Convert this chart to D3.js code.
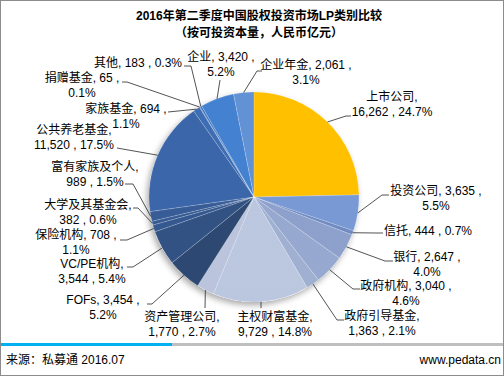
<!DOCTYPE html>
<html>
<head>
<meta charset="utf-8">
<script src="https://cdn.jsdelivr.net/npm/d3@7"></script>
<style>
  body { margin: 0; background: #fff; }
  svg text { font-family: "Liberation Sans", Arial, "Noto Sans CJK SC", sans-serif; }
</style>
</head>
<body>
<svg id="chart" width="504" height="377"></svg>
<script>
// LP 类别（顺时针，从 12 点方向开始）
const categories = ["上市公司", "投资公司", "信托", "银行", "政府机构", "政府引导基金",
  "主权财富基金", "资产管理公司", "FOFs", "VC/PE机构", "保险机构", "大学及其基金会",
  "富有家族及个人", "公共养老基金", "家族基金", "捐赠基金", "其他", "企业", "企业年金"];
const values = [16262, 3635, 444, 2647, 3040, 1363, 9729, 1770, 3454, 3544, 708, 382,
  989, 11520, 694, 65, 183, 3420, 2061];
const percents = ["24.7%", "5.5%", "0.7%", "4.0%", "4.6%", "2.1%", "14.8%", "2.7%", "5.2%",
  "5.4%", "1.1%", "0.6%", "1.5%", "17.5%", "1.1%", "0.1%", "0.3%", "5.2%", "3.1%"];

// 扇区颜色
const colors = ["#ffc000", "#6a8ed0", "#5f7ebb", "#8196c6", "#8b9fca", "#95a7cc",
  "#b4c1dc", "#b3bed8", "#163563", "#1b3f75", "#1f4684", "#204887",
  "#214a8b", "#2555a0", "#285dab", "#2960ae", "#2a63b2", "#2f73cc", "#5086d0"];

// 标签布局：分行方式(0 = 名称+数值 / 百分比, 1 = 名称 / 数值+百分比, 2 = 单行)、位置、引线拐点
const labelLayout = [
  { mode: 1, x: 392, y: 97,  elbow: [346, 116], end: [351, 116] },
  { mode: 0, x: 436, y: 191, elbow: [382, 195], end: [389, 195] },
  { mode: 2, x: 428, y: 231, elbow: [376, 233], end: [383, 233] },
  { mode: 0, x: 427, y: 257, elbow: [385, 261], end: [393, 261] },
  { mode: 0, x: 406, y: 286, elbow: [353, 289], end: [360, 289] },
  { mode: 1, x: 382, y: 316, elbow: [337, 320], end: [344, 320] },
  { mode: 1, x: 275, y: 317, elbow: [261, 308], end: [261, 308] },
  { mode: 1, x: 182, y: 317, elbow: [205, 308], end: [205, 308] },
  { mode: 0, x: 103, y: 300, elbow: [152, 304], end: [147, 304] },
  { mode: 1, x: 92,  y: 264, elbow: [133, 267], end: [127, 267] },
  { mode: 0, x: 76,  y: 235, elbow: [127, 240], end: [120, 240] },
  { mode: 1, x: 88,  y: 205, elbow: [138, 208], end: [133, 208] },
  { mode: 1, x: 95,  y: 167, elbow: [133, 184], end: [125, 184] },
  { mode: 1, x: 74,  y: 130, elbow: [117, 148], end: [117, 148] },
  { mode: 0, x: 126, y: 109, elbow: [168, 112], end: [168, 112] },
  { mode: 0, x: 82,  y: 78,  elbow: [127, 82],  end: [122, 82] },
  { mode: 2, x: 138, y: 63,  elbow: [191, 66],  end: [184, 66] },
  { mode: 0, x: 221, y: 57,  elbow: [220, 80],  end: [220, 80] },
  { mode: 0, x: 306, y: 65,  elbow: [257, 71],  end: [262, 71] }
];

const svg = d3.select("#chart");
const width = 504, height = 377;
const cx = 254, cy = 197, radius = 105;

// 外框
svg.append("rect")
  .attr("x", 0.5).attr("y", 0.5)
  .attr("width", width - 1).attr("height", height - 2)
  .attr("fill", "#fff")
  .attr("stroke", "#8c8c8c")
  .attr("stroke-width", 1);

// 标题
svg.append("text")
  .attr("x", 259).attr("y", 20)
  .attr("text-anchor", "middle")
  .attr("font-size", "12px")
  .attr("font-weight", "bold")
  .text("2016年第二季度中国股权投资市场LP类别比较");
svg.append("text")
  .attr("x", 259).attr("y", 37)
  .attr("text-anchor", "middle")
  .attr("font-size", "12px")
  .attr("font-weight", "bold")
  .text("（按可投资本量，人民币亿元）");

const defs = svg.append("defs");

// 饼图阴影
const shadow = defs.append("filter")
  .attr("id", "pieShadow")
  .attr("x", "-20%").attr("y", "-20%")
  .attr("width", "140%").attr("height", "140%");
shadow.append("feDropShadow")
  .attr("dx", -2).attr("dy", 3)
  .attr("stdDeviation", 3)
  .attr("flood-color", "#000")
  .attr("flood-opacity", 0.35);

// 整体竖向渐变叠加（上亮下暗）
const shade = defs.append("linearGradient")
  .attr("id", "shade")
  .attr("gradientUnits", "userSpaceOnUse")
  .attr("x1", 0).attr("y1", cy - radius)
  .attr("x2", 0).attr("y2", cy + radius);
shade.append("stop").attr("offset", 0).attr("stop-color", "#fff").attr("stop-opacity", 0.1);
shade.append("stop").attr("offset", 0.45).attr("stop-color", "#fff").attr("stop-opacity", 0);
shade.append("stop").attr("offset", 1).attr("stop-color", "#000").attr("stop-opacity", 0.2);

const pie = d3.pie().sort(null).value(d => d);
const arcs = pie(values);
const arc = d3.arc().innerRadius(0).outerRadius(radius);

const g = svg.append("g").attr("transform", `translate(${cx},${cy})`);

g.append("circle")
  .attr("r", radius)
  .attr("fill", "#fff")
  .attr("filter", "url(#pieShadow)");

g.selectAll("path.slice")
  .data(arcs)
  .join("path")
  .attr("class", "slice")
  .attr("d", arc)
  .attr("fill", (d, i) => colors[i]);

// 黄色扇区之外叠加渐变（渐变用画布坐标）
svg.append("g")
  .selectAll("path")
  .data(arcs.slice(1))
  .join("path")
  .attr("d", arc)
  .attr("transform", `translate(${cx},${cy})`)
  .attr("fill", "url(#shade)");

// 扇区分隔线
g.selectAll("path.sep")
  .data(arcs)
  .join("path")
  .attr("class", "sep")
  .attr("d", arc)
  .attr("fill", "none")
  .attr("stroke", "#ffffff")
  .attr("stroke-opacity", 0.25)
  .attr("stroke-width", 0.5);

// 引线
const fmt = d3.format(",");
svg.append("g")
  .selectAll("polyline")
  .data(arcs)
  .join("polyline")
  .attr("points", (d, i) => {
    const a = (d.startAngle + d.endAngle) / 2;
    const sx = cx + radius * Math.sin(a);
    const sy = cy - radius * Math.cos(a);
    const L = labelLayout[i];
    return [[sx, sy], L.elbow, L.end].map(p => p.join(",")).join(" ");
  })
  .attr("fill", "none")
  .attr("stroke", "#404040")
  .attr("stroke-width", 0.9);

// 标签文字
const labels = svg.append("g")
  .selectAll("text")
  .data(arcs)
  .join("text")
  .attr("text-anchor", "middle")
  .attr("font-size", "12px")
  .attr("fill", "#000");

labels.each(function(d, i) {
  const L = labelLayout[i];
  const name = categories[i] + ",";
  const val = fmt(values[i]);
  let lines;
  if (L.mode === 0) lines = [`${name} ${val} ,`, percents[i]];
  else if (L.mode === 1) lines = [name, `${val} , ${percents[i]}`];
  else lines = [`${name} ${val} , ${percents[i]}`];
  d3.select(this).selectAll("tspan")
    .data(lines)
    .join("tspan")
    .attr("x", L.x)
    .attr("y", (t, k) => L.y + 4 + k * 15)
    .text(t => t);
});

// 底部分隔线
svg.append("line")
  .attr("x1", 1).attr("x2", 172)
  .attr("y1", 344.5).attr("y2", 344.5)
  .attr("stroke", "#00b0f0").attr("stroke-width", 3);
svg.append("line")
  .attr("x1", 172).attr("x2", 503)
  .attr("y1", 344.5).attr("y2", 344.5)
  .attr("stroke", "#bfbfbf").attr("stroke-width", 3);

// 来源
svg.append("text")
  .attr("x", 6).attr("y", 364)
  .attr("font-size", "12px")
  .text("来源：私募通 2016.07");
svg.append("text")
  .attr("x", 501).attr("y", 364)
  .attr("text-anchor", "end")
  .attr("font-size", "12px")
  .text("www.pedata.cn");
</script>
</body>
</html>
